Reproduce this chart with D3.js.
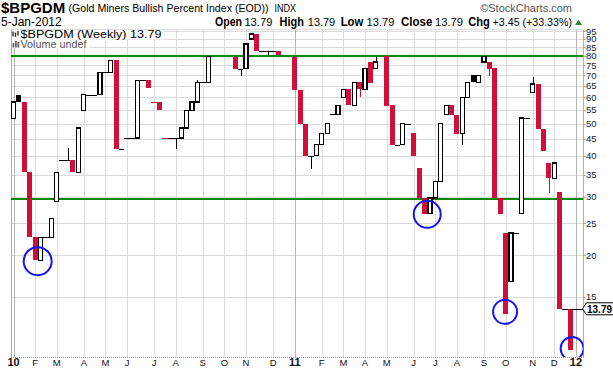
<!DOCTYPE html>
<html><head><meta charset="utf-8">
<script src="https://cdn.jsdelivr.net/npm/d3@7"></script>
<style>
html,body{margin:0;padding:0;background:#fff;}
svg{display:block;font-family:"Liberation Sans",Arial,sans-serif;}
</style></head>
<body>
<svg id="chart" width="613" height="371"></svg>
<script>
// ---------- DATA (weekly candles; null = no visible bar) ----------
const opens  = [51.7,61.1,58.1,35.6,22.65,19.3,22.65,22.65,29.1,38.7,38.7,38.7,35.6,54.8,61.1,61.1,61.1,71.4,71.4,77.65,
  42.0,45.2,45.2,45.2,67.55,67.55,58.1,58.1,45.2,45.2,45.2,45.2,48.5,54.7,58.1,66.7,66.7,null,null,null,
  null,79.45,73.2,73.2,90.0,93.2,83,83,83,83,null,null,79.45,63.3,50.0,40,40,43.3,46.7,53.4,
  53.4,60.0,63.5,56.8,66.8,63.5,76.7,73.4,null,79.8,57.0,43.2,43.2,50.0,46.8,36.7,29.8,26.7,29.8,33.5,
  53.2,56.8,53.2,46.6,60.0,70.0,66.6,76.7,76.7,73.4,29.8,23.35,16.7,23.35,26.7,52.0,62.15,65.85,48.25,38.0,
  34.2,31.06,13.79,13.79];
const highs  = [58.1,61.1,58.1,35.6,22.65,22.65,22.65,25.8,35.6,38.7,42.2,38.7,48.5,61.1,61.1,61.1,71.4,71.4,77.65,77.65,
  42.0,45.2,45.2,67.55,67.55,67.55,58.1,58.1,45.2,45.2,45.2,48.5,54.7,58.1,67.55,66.7,79.8,null,null,null,
  null,79.45,73.2,87.0,93.2,93.2,83,83,83,83,null,null,79.45,63.3,50.0,40,43.3,46.7,50.1,53.4,
  56.8,63.5,63.5,66.6,66.8,73.2,76.7,79.45,null,79.8,57.0,43.2,50.0,50.0,46.8,36.7,29.8,29.8,33.5,50.0,
  56.8,56.8,53.2,60.0,66.6,70.0,70.0,79.8,76.7,73.4,29.8,23.35,23.35,23.35,52.0,52.0,69.1,65.85,48.25,38.0,
  38.0,31.06,13.79,13.79];
const lows   = [51.7,58.1,35.6,22.65,19.3,19.3,22.65,22.65,29.1,38.7,38.7,35.6,35.6,54.8,61.1,61.1,61.1,71.4,71.4,42.0,
  42.0,45.2,45.2,45.2,67.55,64.0,58.1,54.8,45.2,45.2,42.0,45.2,48.5,54.7,58.1,66.7,66.7,null,null,null,
  null,73.2,69.8,73.2,90.0,83,83,80.4,83,80.4,null,null,63.3,50.0,40.0,36.5,40,43.3,46.7,53.4,
  53.4,60.0,56.8,56.8,60.0,63.5,66.3,73.4,null,56.6,43.2,43.2,43.2,50.0,40.0,29.8,26.7,26.7,29.8,33.5,
  53.2,53.2,46.6,43.2,60.0,66.6,66.6,76.7,69.8,29.8,26.7,13.3,16.7,23.35,26.7,52.0,62.15,48.25,41.4,30.8,
  34.2,13.79,13.79,10.34];
const closes = [58.1,58.1,35.6,22.65,19.3,22.65,22.65,25.8,35.6,38.7,38.7,35.6,48.5,61.1,61.1,61.1,71.4,71.4,77.65,42.0,
  42.0,45.2,45.2,67.55,67.55,64.0,58.1,54.8,45.2,45.2,45.2,48.5,54.7,58.1,66.7,66.7,79.8,null,null,null,
  null,73.2,73.2,87.0,93.2,83,83,83,83,80.4,null,null,63.3,50.0,40.0,40,43.3,46.7,50.1,53.4,
  56.8,63.5,56.8,66.6,63.5,73.2,66.3,76.7,null,56.6,43.2,43.2,50.0,50.0,40.0,29.8,26.7,29.8,33.5,50.0,
  56.8,53.2,46.6,60.0,66.6,66.6,70.0,79.8,73.2,29.8,26.7,13.3,23.35,23.35,52.0,52.0,65.85,48.25,41.4,34.2,
  38.0,13.79,13.79,10.34];
const lastValue = 13.79;
const levelLines = [80, 29.6];                         // green horizontal annotation lines
const yTickValues = [15,20,25,30,35,40,45,50,55,60,65,70,75,80,85,90,95];
const monthTickSlots  = [0,4,8,13,17,21,26,30,35,39,43,48,52,57,61,65,69,74,78,82,87,91,96,100,104];
const monthTickLabels = ["10","F","M","A","M","J","J","A","S","O","N","D","11","F","M","A","M","J","J","A","S","O","N","D","12"];
const circleSlots  = [4.47, 76.5, 90.9, 103.3];        // blue annotation circles (week slot, value)
const circleValues = [19.2, 26.6, 13.5, 10.46];
const circleRadii  = [14, 13.5, 12, 11.5];
const headerTitle = "$BPGDM", headerName = "(Gold Miners Bullish Percent Index (EOD))", headerExch = "INDX";
const headerDate = "5-Jan-2012";
const quoteLabels = ["Open","High","Low","Close","Chg"];
const quoteValues = ["13.79","13.79","13.79","13.79","+3.45 (+33.33%)"];

// ---------- LAYOUT ----------
const W = 613, H = 371;
const plot = {l: 11, r: 583.5, t: 29, b: 357};
const RED = "#d10f3a", GREEN = "#008a00", BLUE = "#1414ee", GRID = "#dcdcdc";
const svg = d3.select("#chart");

const x = d3.scaleLinear().domain([0, 104]).range([13.5, 13.5 + 104 * 5.408]);
const y = d3.scaleLog().domain([15, 80]).range([296.7, 56]);

// clip
svg.append("defs").append("clipPath").attr("id","pc")
  .append("rect").attr("x",plot.l).attr("y",plot.t).attr("width",plot.r-plot.l).attr("height",plot.b-plot.t);

// horizontal gridlines
const gG = svg.append("g").attr("shape-rendering","crispEdges");
gG.selectAll("line.h").data(yTickValues).join("line")
  .attr("x1",plot.l).attr("x2",plot.r)
  .attr("y1",d=>Math.round(y(d))+0.5).attr("y2",d=>Math.round(y(d))+0.5)
  .attr("stroke",GRID).attr("stroke-width",1);
// vertical gridlines
gG.selectAll("line.v").data(monthTickSlots).join("line")
  .attr("x1",d=>Math.round(x(d))+0.5).attr("x2",d=>Math.round(x(d))+0.5)
  .attr("y1",plot.t).attr("y2",plot.b)
  .attr("stroke",(d,i)=>/^\d/.test(monthTickLabels[i]) ? "#b4b4b4" : GRID)
  .attr("stroke-width",(d,i)=>/^\d/.test(monthTickLabels[i]) ? 1.5 : 1);

// frame
gG.append("line").attr("x1",plot.l+0.5).attr("x2",plot.l+0.5).attr("y1",plot.t).attr("y2",plot.b).attr("stroke","#b0b0b0");
gG.append("line").attr("x1",plot.r).attr("x2",plot.r).attr("y1",plot.t).attr("y2",plot.b).attr("stroke","#b0b0b0");
gG.append("line").attr("x1",plot.l).attr("x2",plot.r).attr("y1",plot.t+0.5).attr("y2",plot.t+0.5).attr("stroke",GRID);
gG.append("line").attr("x1",plot.l).attr("x2",plot.r).attr("y1",plot.b+0.5).attr("y2",plot.b+0.5)
  .attr("stroke","#999").attr("stroke-dasharray","1,1");

// legend backgrounds
svg.append("rect").attr("x",plot.l+1).attr("y",plot.t+1).attr("width",152).attr("height",9.5).attr("fill","#fff");
svg.append("rect").attr("x",plot.l+1).attr("y",plot.t+10.5).attr("width",77).attr("height",9).attr("fill","#fff");

// green level lines
const plotG = svg.append("g").attr("clip-path","url(#pc)");
plotG.selectAll("line.lvl").data(levelLines).join("line")
  .attr("x1",plot.l).attr("x2",plot.r).attr("y1",d=>y(d)).attr("y2",d=>y(d))
  .attr("stroke",GREEN).attr("stroke-width",2);

// candles
const candles = [];
let prev = null;
opens.forEach((o,i)=>{
  if (o == null) return;
  const c = closes[i];
  candles.push({i, o, h: highs[i], l: lows[i], c, col: (prev != null && c < prev) ? RED : "#000"});
  prev = c;
});
const cg = plotG.append("g").attr("shape-rendering","crispEdges");
candles.forEach(d=>{
  const cx = x(d.i);
  const top = Math.max(d.o,d.c), bot = Math.min(d.o,d.c);
  if (d.h > top || d.l < bot) {
    cg.append("line").attr("x1",Math.round(cx)+0.5).attr("x2",Math.round(cx)+0.5)
      .attr("y1",y(d.h)).attr("y2",y(d.l)).attr("stroke",d.col).attr("stroke-width",1);
  }
  if (d.o === d.c) {
    cg.append("line").attr("x1",cx-2.8).attr("x2",cx+2.8)
      .attr("y1",Math.round(y(d.c))+0.5).attr("y2",Math.round(y(d.c))+0.5)
      .attr("stroke",d.col).attr("stroke-width",1);
  } else if (d.c > d.o) {
    cg.append("rect").attr("x",cx-2).attr("width",4)
      .attr("y",y(top)).attr("height",Math.max(1,y(bot)-y(top)))
      .attr("fill","#fff").attr("stroke",d.col).attr("stroke-width",1.2);
  } else {
    cg.append("rect").attr("x",cx-2.5).attr("width",5)
      .attr("y",y(top)).attr("height",Math.max(1,y(bot)-y(top)))
      .attr("fill",d.col);
  }
});

// price line to axis
const lastSlot = candles[candles.length-1].i;
plotG.append("line").attr("x1",x(lastSlot)).attr("x2",plot.r)
  .attr("y1",Math.round(y(lastValue))+0.5).attr("y2",Math.round(y(lastValue))+0.5)
  .attr("stroke","#000").attr("shape-rendering","crispEdges");

// blue circles
plotG.selectAll("circle.ann").data(circleSlots).join("circle")
  .attr("cx",(d,i)=>x(d)).attr("cy",(d,i)=>y(circleValues[i])).attr("r",(d,i)=>circleRadii[i])
  .attr("fill","none").attr("stroke",BLUE).attr("stroke-width",2);

// y axis
const ya = svg.append("g");
ya.selectAll("line").data(yTickValues).join("line")
  .attr("x1",plot.r).attr("x2",plot.r+2)
  .attr("y1",d=>Math.round(y(d))+0.5).attr("y2",d=>Math.round(y(d))+0.5).attr("stroke","#999");
ya.selectAll("text").data(yTickValues).join("text")
  .attr("x",plot.r+2.5).attr("y",d=>y(d)).attr("dy","0.35em")
  .attr("font-size",9.5).attr("fill","#222").text(d=>d);

// price box
const py = y(lastValue);
svg.append("path")
  .attr("d",`M${plot.r-1},${py} L${plot.r+3},${py-6} L${W+2},${py-6} L${W+2},${py+6} L${plot.r+3},${py+6} Z`)
  .attr("fill","#fff").attr("stroke","#000").attr("stroke-width",1);
svg.append("text").attr("x",plot.r+3.5).attr("y",py).attr("dy","0.36em")
  .attr("font-size",10.5).attr("font-weight","bold")
  .attr("textLength",25).attr("lengthAdjust","spacingAndGlyphs").text(lastValue.toFixed(2));

// x axis labels
svg.append("g").selectAll("text").data(monthTickSlots).join("text")
  .attr("x",d=>x(d)).attr("y",366)
  .attr("text-anchor","middle").attr("font-size",(d,i)=>/^\d/.test(monthTickLabels[i])?11:9.5)
  .attr("font-weight",(d,i)=>/^\d/.test(monthTickLabels[i])?"bold":"normal")
  .attr("fill","#111").text((d,i)=>monthTickLabels[i]);

// header
const hd = svg.append("g").attr("fill","#000");
hd.append("text").attr("x",1).attr("y",12.5).attr("font-size",15).attr("font-weight","bold").text(headerTitle);
hd.append("text").attr("x",68.5).attr("y",12).attr("font-size",11)
  .attr("textLength",200).attr("lengthAdjust","spacingAndGlyphs").text(headerName);
hd.append("text").attr("x",274.5).attr("y",12).attr("font-size",10)
  .attr("textLength",21.5).attr("lengthAdjust","spacingAndGlyphs").text(headerExch);
hd.append("text").attr("x",572).attr("y",12).attr("font-size",11).attr("text-anchor","end")
  .attr("fill","#555").text("\u00A9StockCharts.com");
hd.append("text").attr("x",1).attr("y",25.5).attr("font-size",12).text(headerDate);

const labelX = [215, 279.6, 340.7, 401, 468.3];
const labelW = [27, 24.3, 22.7, 31.3, 21.6];
const valueX = [244.4, 307.8, 366.5, 435, 492.6];
const valueW = [28, 27.4, 28, 28, 79.4];
quoteLabels.forEach((l,i)=>{
  hd.append("text").attr("x",labelX[i]).attr("y",25.5).attr("font-size",12).attr("font-weight","bold")
    .attr("textLength",labelW[i]).attr("lengthAdjust","spacingAndGlyphs").text(l);
  hd.append("text").attr("x",valueX[i]).attr("y",25.5).attr("font-size",11.5)
    .attr("textLength",valueW[i]).attr("lengthAdjust","spacingAndGlyphs").text(quoteValues[i]);
});
hd.append("path").attr("d","M575,25 L582,25 L578.5,19.5 Z").attr("fill","#2a8a2a");

// legend
const lg = svg.append("g");
[[13,31.5,36.5],[15.5,32.5,37],[18,31,35.5]].forEach(a=>{
  lg.append("line").attr("x1",a[0]).attr("x2",a[0]).attr("y1",a[1]).attr("y2",a[2]).attr("stroke","#333").attr("stroke-width",1.4);
});
lg.append("text").attr("x",20.5).attr("y",37.5).attr("font-size",11)
  .attr("textLength",141).attr("lengthAdjust","spacingAndGlyphs").text("$BPGDM (Weekly) 13.79");
[[12.5,43,47.5],[15,41,47.5],[17.5,42,47.5]].forEach(a=>{
  lg.append("rect").attr("x",a[0]).attr("y",a[1]).attr("width",1.8).attr("height",a[2]-a[1]).attr("fill","#666");
});
lg.append("text").attr("x",20.5).attr("y",47.5).attr("font-size",10.5).attr("fill","#555")
  .attr("textLength",66).attr("lengthAdjust","spacingAndGlyphs").text("Volume undef");
</script>
</body></html>
